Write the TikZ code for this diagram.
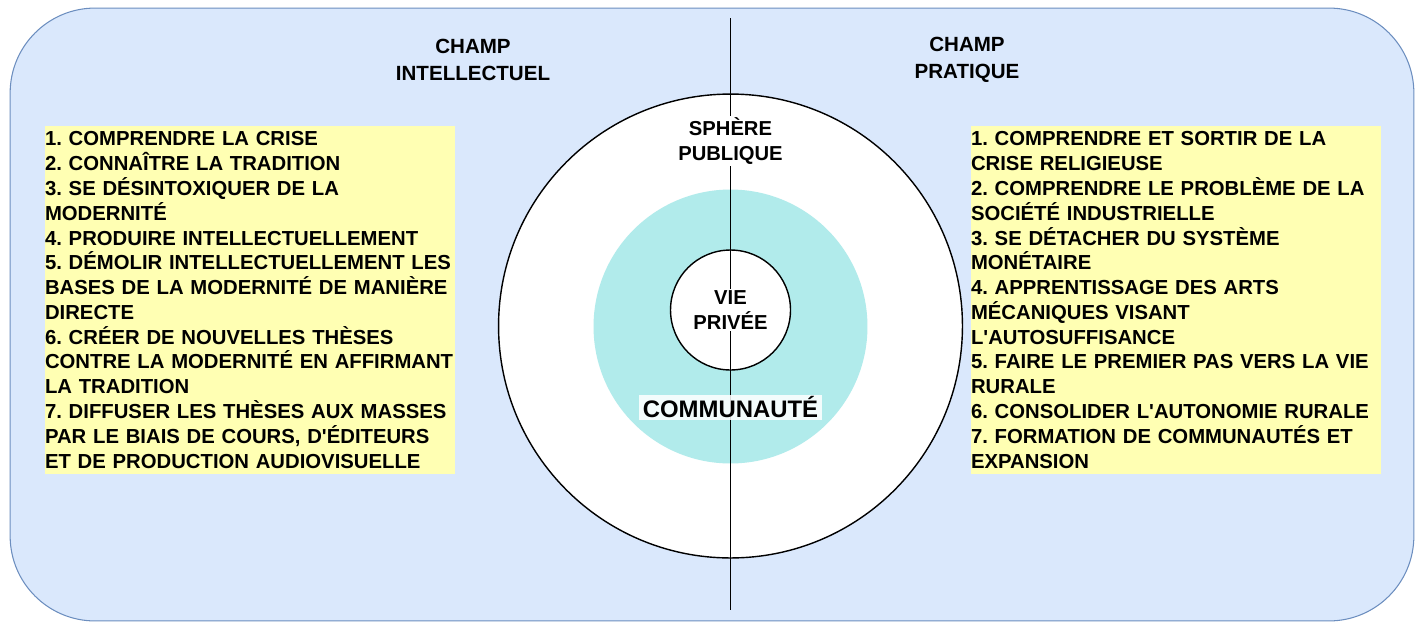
\documentclass[tikz,border=0pt]{standalone}
\usepackage{fontspec}
\setmainfont{Liberation Sans}
\usepackage{tikz}
\usetikzlibrary{positioning}
\frenchspacing
\definecolor{panelfill}{HTML}{DAE8FC}
\definecolor{panelline}{HTML}{6C8EBF}
\definecolor{notefill}{HTML}{FFFFB3}
\definecolor{commufill}{HTML}{B1EBEB}
\newcommand{\apos}{\textquotesingle}
\tikzset{
  panel/.style={rectangle, draw=panelline, fill=panelfill, line width=0.6pt, rounded corners=1.7cm, minimum width=28.08cm, minimum height=12.26cm},
  disc/.style={circle, draw=black, fill=white, line width=0.8pt, inner sep=0pt},
  listbox/.style={rectangle, fill=notefill, align=left, text width=8.2cm, inner xsep=0pt, minimum height=6.92cm, font=\bfseries\fontsize{11.55}{14.1}\selectfont},
  heading/.style={align=center, inner sep=1pt, font=\bfseries\fontsize{11.7}{15}\selectfont},
  tag/.style={align=center, fill=white, inner sep=1pt, font=\bfseries\fontsize{11.5}{14.4}\selectfont}
}

\begin{document}
\begin{tikzpicture}[x=0.02cm, y=-0.02cm]
    \useasboundingbox (0,0) rectangle (1426,626);
    \node[panel] (panel) at (712,314.5) {};

    \node[disc, minimum size=9.28cm] (public) at (730.5,326) {};
    \node[circle, fill=commufill, inner sep=0pt, minimum size=5.48cm] (commu) at (730.5,326.5) {};
    \node[disc, minimum size=2.4cm] (private) at (730.5,310) {};

    \coordinate (top) at (730.5,18);
    \coordinate (bottom) at (730.5,610);
    \draw[line width=0.8pt] (top) -- (bottom);

    \node[tag, below=0.44cm of public.north] (spheretext) {SPHÈRE\\PUBLIQUE};
    \node[tag] (vietext) at (private) {VIE\\PRIVÉE};
    \node[tag, fill opacity=0.85, text opacity=1, inner xsep=2pt, font=\bfseries\fontsize{13.6}{15}\selectfont,
          below=0.48cm of private.south] (commutext) {COMMUNAUTÉ};

    \node[heading] (intel) at (473,60) {CHAMP\\INTELLECTUEL};
    \node[heading] (prat) at (967,60) {CHAMP\\PRATIQUE};

    \node[listbox] (intellist) at (250,300) {1. COMPRENDRE LA CRISE\\
      2. CONNAÎTRE LA TRADITION\\
      3. SE DÉSINTOXIQUER DE LA\\
      MODERNITÉ\\
      4. PRODUIRE INTELLECTUELLEMENT\\
      5. DÉMOLIR INTELLECTUELLEMENT LES\\
      BASES DE LA MODERNITÉ DE MANIÈRE\\
      DIRECTE\\
      6. CRÉER DE NOUVELLES THÈSES\\
      CONTRE LA MODERNITÉ EN AFFIRMANT\\
      LA TRADITION\\
      7. DIFFUSER LES THÈSES AUX MASSES\\
      PAR LE BIAIS DE COURS, D\apos ÉDITEURS\\
      ET DE PRODUCTION AUDIOVISUELLE};
    \node[listbox] (pratlist) at (1176,300) {1. COMPRENDRE ET SORTIR DE LA\\
      CRISE RELIGIEUSE\\
      2. COMPRENDRE LE PROBLÈME DE LA\\
      SOCIÉTÉ INDUSTRIELLE\\
      3. SE DÉTACHER DU SYSTÈME\\
      MONÉTAIRE\\
      4. APPRENTISSAGE DES ARTS\\
      MÉCANIQUES VISANT\\
      L\apos AUTOSUFFISANCE\\
      5. FAIRE LE PREMIER PAS VERS LA VIE\\
      RURALE\\
      6. CONSOLIDER L\apos AUTONOMIE RURALE\\
      7. FORMATION DE COMMUNAUTÉS ET\\
      EXPANSION};
\end{tikzpicture}
\end{document}
